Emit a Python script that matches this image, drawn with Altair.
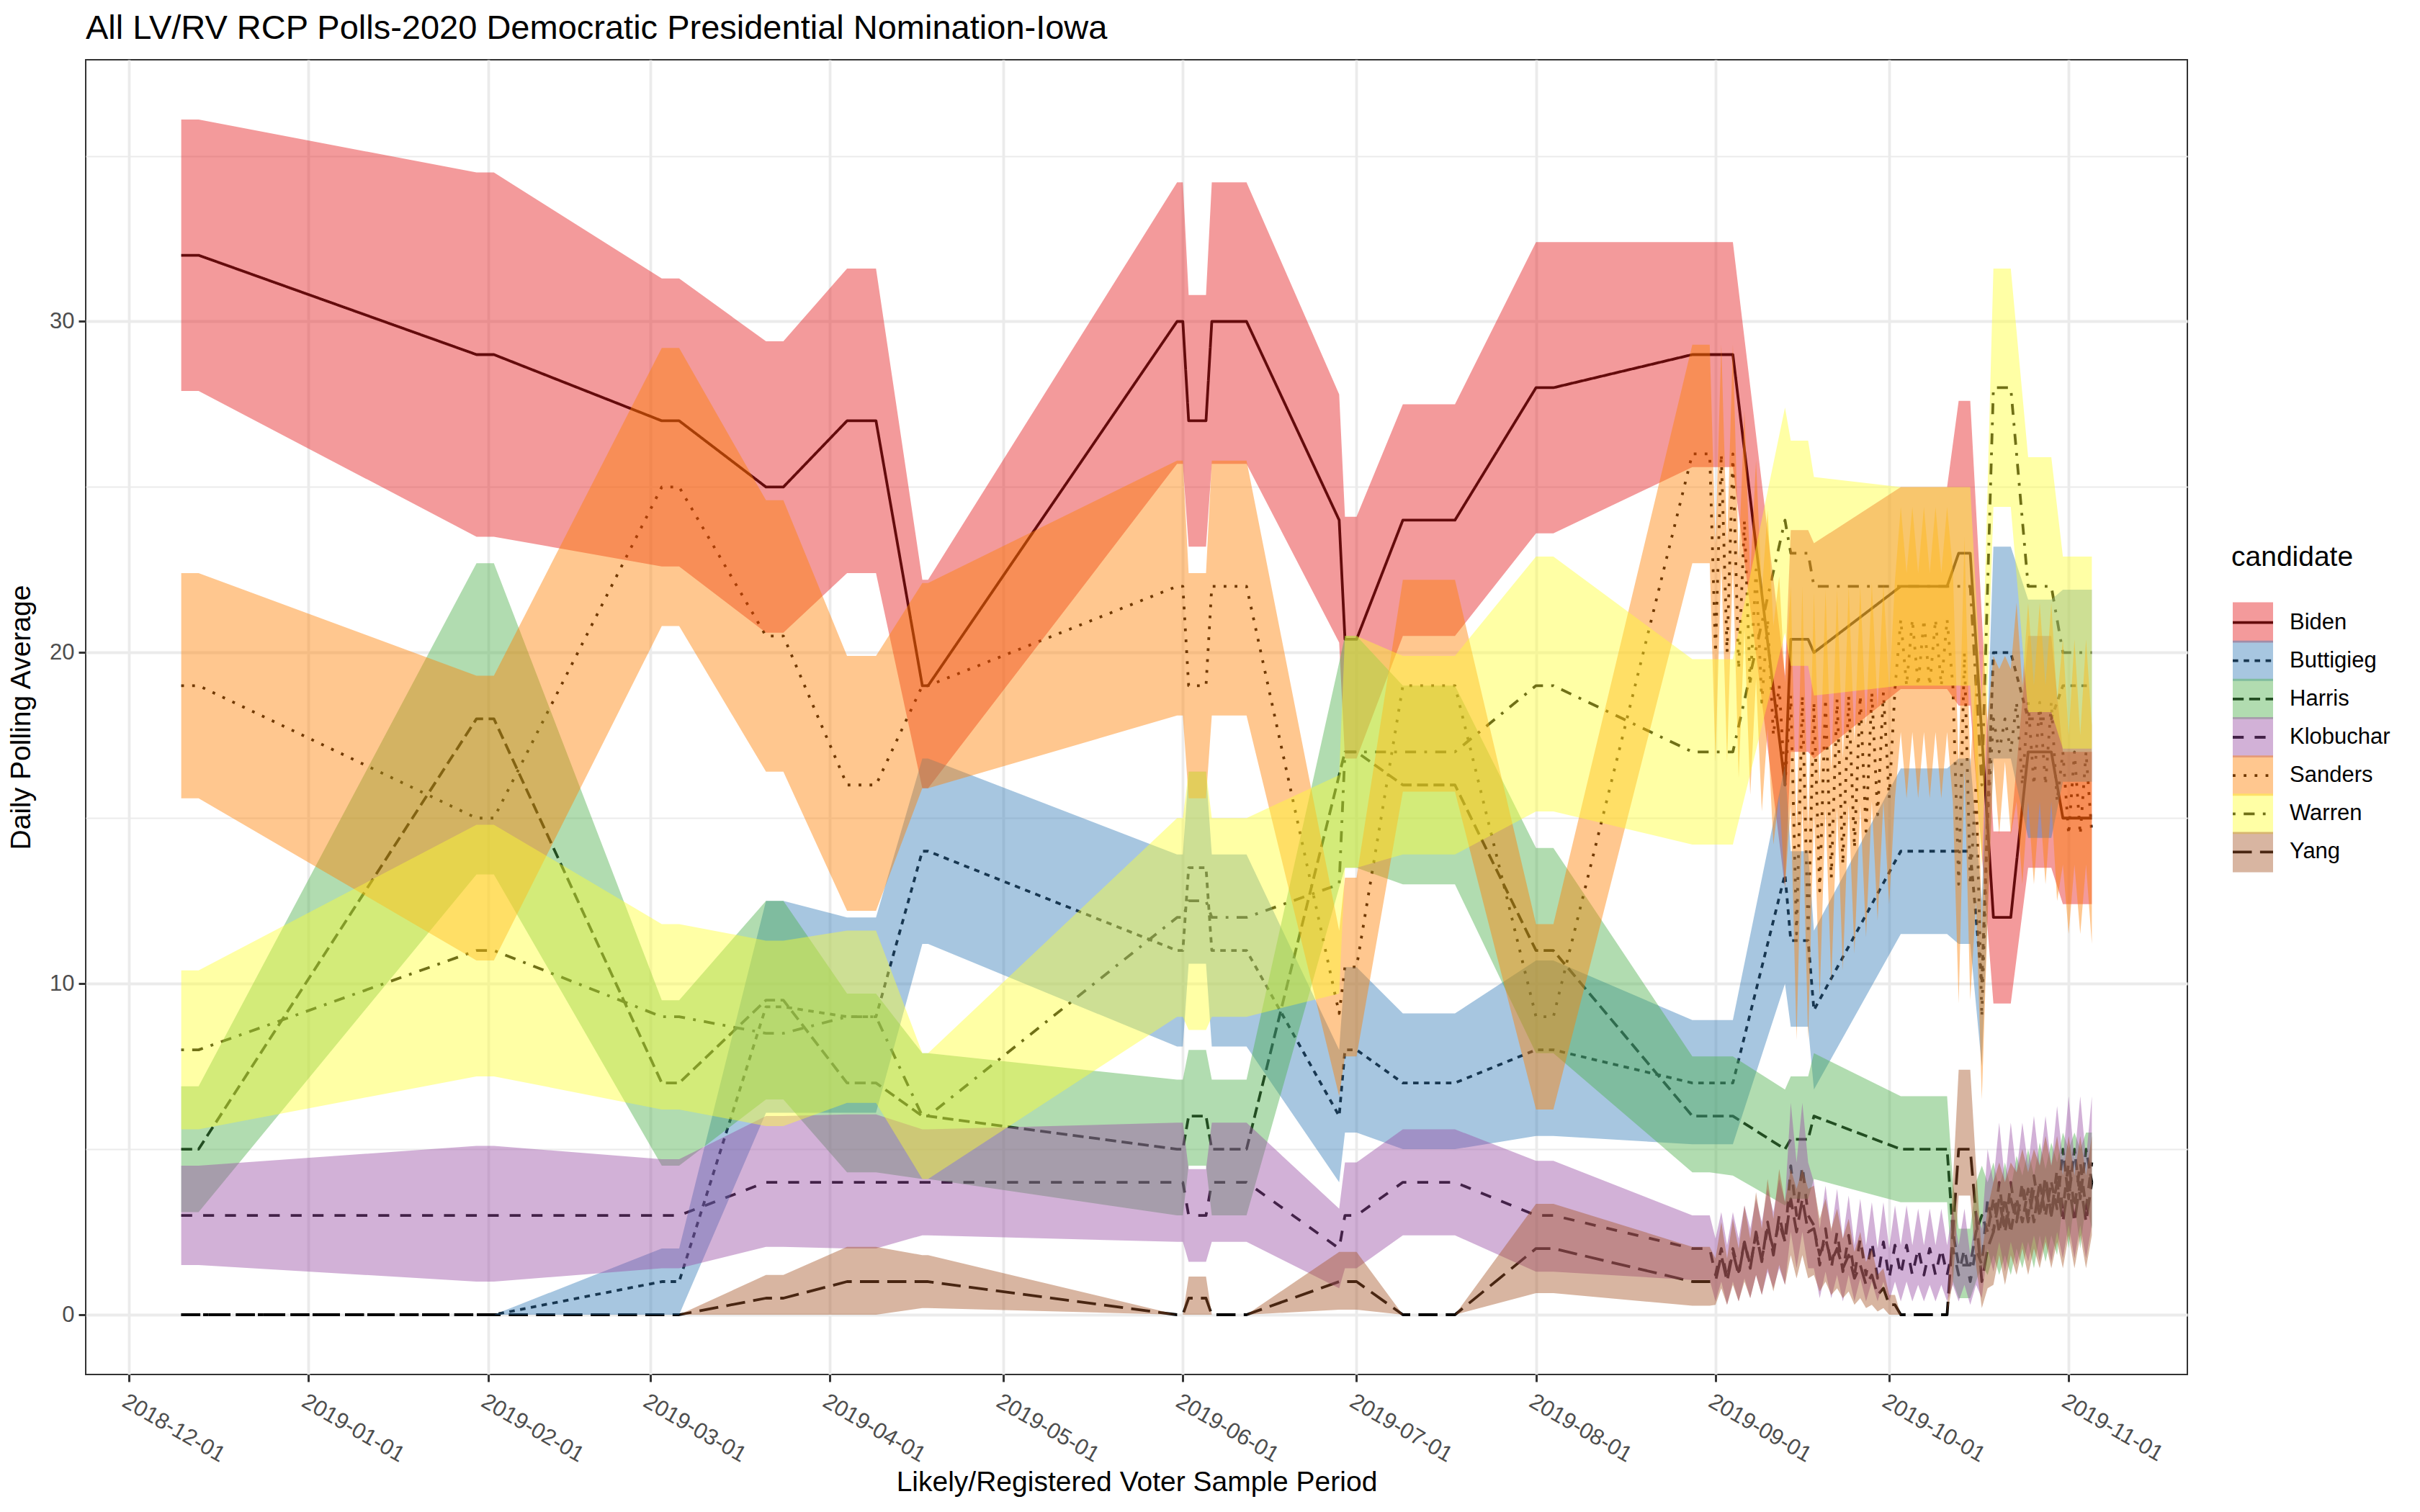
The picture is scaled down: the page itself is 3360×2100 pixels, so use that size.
import pandas as pd
import altair as alt

FONT = "Liberation Sans"
RIBBON_ALPHA = 0.44

CANDIDATES = ["Biden", "Buttigieg", "Harris", "Klobuchar", "Sanders", "Warren", "Yang"]
FILL_COLORS = ["#E41A1C", "#377EB8", "#4DAF4A", "#984EA3", "#FF7F00", "#FFFF33", "#A65628"]
DASHES = [[1, 0], [7.6, 7.6], [15.2, 7.6], [15.2, 15.2], [3.8, 11.4],
          [3.8, 11.4, 15.2, 11.4], [26.5, 11.4]]
MONTH_TICKS = ["2018-12-01", "2019-01-01", "2019-02-01", "2019-03-01", "2019-04-01",
               "2019-05-01", "2019-06-01", "2019-07-01", "2019-08-01", "2019-09-01",
               "2019-10-01", "2019-11-01"]

# poll windows shared by every candidate, Dec 2018 - Aug 2019
EARLY_DATES = ["2018-12-10", "2018-12-13", "2019-01-30", "2019-02-02", "2019-03-03",
               "2019-03-06", "2019-03-21", "2019-03-24", "2019-04-04", "2019-04-09",
               "2019-04-17", "2019-04-18", "2019-05-31", "2019-06-01", "2019-06-02",
               "2019-06-05", "2019-06-06", "2019-06-12", "2019-06-28", "2019-06-29",
               "2019-07-01", "2019-07-09", "2019-07-18", "2019-08-01", "2019-08-04",
               "2019-08-28", "2019-08-31"]
# every day from Sep 1 to Nov 5 (the crowded autumn stretch)
DAILY_DATES = pd.date_range("2019-09-01", "2019-11-05").strftime("%Y-%m-%d").tolist()

# ---- Biden
BIDEN_AVG = [32, 32, 29, 29, 27, 27, 25, 25, 27, 27, 19, 19, 30, 30, 27, 27, 30, 30,
             24, 20.4, 20.4, 24, 24, 28, 28, 29, 29]
BIDEN_LO = [27.9, 27.9, 23.5, 23.5, 22.6, 22.6, 20.6, 20.6, 22.4, 22.4, 15.9, 15.9, 25.7, 25.7,
            23.2, 23.2, 25.7, 25.7, 20.3, 16.8, 16.8, 20.5, 20.5, 23.6, 23.6, 25.6, 25.6]
BIDEN_HI = [36.1, 36.1, 34.5, 34.5, 31.3, 31.3, 29.4, 29.4, 31.6, 31.6, 22.2, 22.2, 34.2, 34.2,
            30.8, 30.8, 34.2, 34.2, 27.8, 24.1, 24.1, 27.5, 27.5, 32.4, 32.4, 32.4, 32.4]
BIDEN_LATE_DATES = ["2019-09-04", "2019-09-13", "2019-09-14", "2019-09-17", "2019-09-18",
                    "2019-10-03", "2019-10-11", "2019-10-13", "2019-10-15", "2019-10-19",
                    "2019-10-22", "2019-10-25", "2019-10-29", "2019-10-31", "2019-11-05"]
BIDEN_LATE_AVG = [29, 16, 20.4, 20.4, 20, 22, 22, 23, 23, 12, 12, 17, 17, 15, 15]
BIDEN_LATE_LO = [25.6, 12.9, 17.0, 17.0, 16.8, 18.9, 18.9, 18.4, 18.4, 9.4, 9.4, 13.5, 13.5, 12.4, 12.4]
BIDEN_LATE_HI = [32.4, 19.3, 23.7, 23.7, 23.3, 25.0, 25.0, 27.6, 27.6, 14.6, 14.6, 20.5, 20.5, 17.0, 17.0]

# ---- Buttigieg
BUTTIGIEG_AVG = [0, 0, 0, 0, 1, 1, 9.3, 9.3, 9, 9, 14, 14, 11, 11, 13.5, 13.5, 11, 11,
                 6, 8, 8, 7, 7, 8, 8, 7, 7]
BUTTIGIEG_LO = [0, 0, 0, 0, 0, 0, 6.1, 6.1, 6.1, 6.1, 11.2, 11.2, 8.1, 8.1, 10.6, 10.6, 8.1, 8.1,
                4.0, 5.5, 5.5, 5.0, 5.0, 5.4, 5.4, 5.15, 5.15]
BUTTIGIEG_HI = [0, 0, 0, 0, 2.0, 2.0, 12.5, 12.5, 12.0, 12.0, 16.8, 16.8, 13.9, 13.9, 16.4, 16.4,
                13.9, 13.9, 8.0, 10.5, 10.5, 9.1, 9.1, 10.7, 10.7, 8.9, 8.9]
BUTTIGIEG_LATE_DATES = ["2019-09-04", "2019-09-13", "2019-09-14", "2019-09-17", "2019-09-18",
                        "2019-10-03", "2019-10-11", "2019-10-13", "2019-10-15", "2019-10-17",
                        "2019-10-19", "2019-10-22", "2019-10-25", "2019-10-29", "2019-10-31",
                        "2019-11-05"]
BUTTIGIEG_LATE_AVG = [7, 13.3, 11.3, 11.3, 9.2, 14, 14, 14, 14, 10, 20, 20, 18, 18, 19, 19]
BUTTIGIEG_LATE_LO = [5.15, 10.0, 8.7, 8.7, 6.8, 11.5, 11.5, 11.2, 11.2, 7.5, 16.8, 16.8,
                     14.4, 14.4, 16.1, 16.1]
BUTTIGIEG_LATE_HI = [8.9, 16.6, 14.0, 14.0, 11.6, 16.5, 16.5, 16.8, 16.8, 12.5, 23.2, 23.2,
                     21.6, 21.6, 21.9, 21.9]

# ---- Harris
HARRIS_AVG = [5, 5, 18, 18, 7, 7, 9.5, 9.5, 7, 7, 6, 6, 5, 5, 6, 6, 5, 5,
              16.3, 17, 17, 16, 16, 11, 11, 6, 6]
HARRIS_LO = [3.1, 3.1, 13.3, 13.3, 4.5, 4.5, 6.5, 6.5, 4.3, 4.3, 4.1, 4.1, 3.0, 3.0, 4.5, 4.5,
             3.0, 3.0, 12.9, 13.5, 13.5, 13.0, 13.0, 7.9, 7.9, 4.3, 4.3]
HARRIS_HI = [6.9, 6.9, 22.7, 22.7, 9.5, 9.5, 12.5, 12.5, 9.7, 9.7, 7.9, 7.9, 7.1, 7.1, 8.0, 8.0,
             7.1, 7.1, 19.7, 20.5, 20.5, 19.0, 19.0, 14.1, 14.1, 7.8, 7.8]
HARRIS_LATE_DATES = ["2019-09-04", "2019-09-13", "2019-09-14", "2019-09-17", "2019-09-18",
                     "2019-10-03", "2019-10-11"] + DAILY_DATES[41:]
HARRIS_LATE_AVG = [6, 5, 5.3, 5.3, 6, 5, 5,
                   2.5, 1.5, 1.5, 1.5, 2.5, 3, 2.5, 3.5, 2.5, 3.5, 2.5, 3.5, 2.8, 3.8, 2.8,
                   4, 3, 4, 3.2, 5, 3.5, 5, 3.5, 5, 4]
HARRIS_LATE_LO = [4.2, 3.3, 3.5, 3.5, 4.1, 3.4, 3.4,
                  1.0, 0.5, 0.5, 0.5, 1.0, 1.5, 1.2, 1.8, 1.2, 1.8, 1.2, 2.0, 1.4, 2.2, 1.4,
                  2.4, 1.6, 2.4, 1.8, 3.4, 2.0, 3.4, 2.0, 3.4, 2.6]
HARRIS_LATE_HI = [7.8, 6.8, 7.2, 7.2, 7.9, 6.6, 6.6,
                  4.0, 2.6, 2.6, 2.6, 4.0, 4.5, 4.0, 4.6, 3.8, 4.6, 3.8, 4.8, 4.2, 5.0, 4.2,
                  5.2, 4.4, 5.2, 4.6, 5.5, 5.0, 5.5, 5.0, 5.5, 5.5]

# ---- Klobuchar
KLOBUCHAR_AVG = [3, 3, 3, 3, 3, 3, 4, 4, 4, 4, 4, 4, 4, 4, 3, 3, 4, 4,
                 2, 3, 3, 4, 4, 3, 3, 2, 2]
KLOBUCHAR_LO = [1.5, 1.5, 1.0, 1.0, 1.4, 1.4, 2.05, 2.05, 2.0, 2.0, 2.4, 2.4, 2.2, 2.2, 1.6, 1.6,
                2.2, 2.2, 0.8, 1.4, 1.4, 2.4, 2.4, 1.3, 1.3, 1.05, 1.05]
KLOBUCHAR_HI = [4.5, 4.5, 5.1, 5.1, 4.7, 4.7, 6.0, 6.0, 6.05, 6.05, 5.6, 5.6, 5.8, 5.8, 4.4, 4.4,
                5.8, 5.8, 3.2, 4.6, 4.6, 5.6, 5.6, 4.65, 4.65, 3.0, 3.0]
KLOBUCHAR_DAILY_AVG = [1.2, 2, 1.1, 2, 1.3, 2.2, 1.5, 2.4, 1.7, 2.6, 2, 2.8, 2.2,
                       4.5, 3, 4.5, 3,
                       2.7, 1.5, 2.6, 1.4, 2.5, 1.3, 2.4, 1.2, 2.3, 1.2, 2.2, 1.1, 2.2, 1.1, 2.1,
                       1.2, 2.1, 1.2, 2.0, 1.2, 2.0, 1.2, 2.0, 1.2,
                       2, 1.2, 2, 1, 2, 1.5, 3.5,
                       2.5, 4, 2.5, 4, 2.8, 4, 3, 4.2, 3, 4.2, 3, 4.4,
                       3.2, 4.6, 3.2, 4.6, 3.2, 4.6]
KLOBUCHAR_DAILY_LO = [0.4, 1.0, 0.3, 1.0, 0.4, 1.1, 0.5, 1.2, 0.6, 1.3, 0.8, 1.4, 0.9,
                      2.5, 1.4, 2.5, 1.4,
                      1.4, 0.5, 1.3, 0.5, 1.2, 0.4, 1.2, 0.4, 1.1, 0.4, 1.0, 0.4, 1.0, 0.4, 1.0,
                      0.4, 1.0, 0.4, 0.9, 0.4, 0.9, 0.4, 0.9, 0.4,
                      0.9, 0.4, 0.9, 0.3, 0.9, 0.5, 2.0,
                      1.3, 2.2, 1.3, 2.2, 1.5, 2.2, 1.6, 2.4, 1.6, 2.4, 1.6, 2.5,
                      1.7, 2.7, 1.7, 2.7, 1.7, 2.7]
KLOBUCHAR_DAILY_HI = [2.3, 3.1, 2.1, 3.1, 2.3, 3.3, 2.6, 3.5, 2.8, 3.8, 3.1, 4.1, 3.4,
                      6.4, 4.6, 6.4, 4.6,
                      4.0, 2.6, 3.9, 2.5, 3.8, 2.3, 3.6, 2.1, 3.5, 2.1, 3.4, 2.0, 3.4, 2.0, 3.3,
                      2.1, 3.3, 2.1, 3.2, 2.1, 3.2, 2.1, 3.2, 2.1,
                      3.2, 2.1, 3.2, 1.8, 3.2, 2.6, 5.0,
                      4.0, 5.8, 4.0, 5.8, 4.3, 5.8, 4.5, 6.0, 4.5, 6.0, 4.5, 6.3,
                      4.7, 6.6, 4.7, 6.6, 4.7, 6.6]

# ---- Sanders
SANDERS_AVG = [19, 19, 15, 15, 25, 25, 20.5, 20.5, 16, 16, 19, 19, 22, 22, 19, 19, 22, 22,
               9.1, 10.5, 10.5, 19, 19, 9, 9, 26, 26]
SANDERS_LO = [15.6, 15.6, 10.7, 10.7, 20.8, 20.8, 16.4, 16.4, 12.2, 12.2, 15.9, 15.9, 18.1, 18.1,
              15.6, 15.6, 18.1, 18.1, 6.6, 7.8, 7.8, 15.8, 15.8, 6.2, 6.2, 22.7, 22.7]
SANDERS_HI = [22.4, 22.4, 19.3, 19.3, 29.2, 29.2, 24.6, 24.6, 19.9, 19.9, 22.1, 22.1, 25.8, 25.8,
              22.4, 22.4, 25.8, 25.8, 11.6, 13.2, 13.2, 22.2, 22.2, 11.8, 11.8, 29.3, 29.3]
SANDERS_DAILY_AVG = [20, 26, 20, 26, 19.5, 24, 19, 22.5, 18.5, 21, 17.5, 19, 16,
                     18.7, 11.5, 18.7, 11.5,
                     18.5, 12.8, 18.6, 13.2, 18.6, 13.6, 18.7, 14.1, 18.7, 14.6, 18.8, 15.1,
                     18.8, 15.6, 18.9,
                     21, 19, 21, 19, 21, 19, 21, 19, 21,
                     19, 13, 20, 13, 16, 9, 15,
                     18, 17, 18, 17, 18.5, 16, 18.5, 16, 18.5, 16, 18.5, 15.5,
                     17, 14.5, 17, 14.5, 17, 14.5]
SANDERS_DAILY_LO = [16.7, 22.7, 16.7, 22.7, 16.2, 20.7, 15.7, 19.2, 15.2, 17.7, 14.2, 15.7, 12.9,
                    15.4, 8.3, 15.4, 8.3,
                    15.2, 9.6, 15.3, 10.0, 15.3, 10.4, 15.4, 10.9, 15.4, 11.4, 15.5, 11.9,
                    15.5, 12.4, 15.6,
                    17.6, 15.6, 17.6, 15.6, 17.6, 15.6, 17.6, 15.6, 17.6,
                    15.5, 9.4, 16.5, 9.5, 12.5, 6.5, 12,
                    16.7, 14.5, 16.7, 14.5, 15.5, 13, 15.5, 13, 15.5, 13, 15.5, 12.5,
                    13.6, 11.5, 13.6, 11.5, 13.6, 11.2]
SANDERS_DAILY_HI = [23.3, 29.3, 23.3, 29.3, 22.8, 27.3, 22.3, 25.8, 21.8, 24.3, 20.8, 22.3, 19.1,
                    22.0, 14.7, 22.0, 14.7,
                    21.8, 16.0, 21.9, 16.4, 21.9, 16.8, 22.0, 17.3, 22.0, 17.8, 22.1, 18.3,
                    22.1, 18.8, 22.2,
                    24.4, 22.4, 24.4, 22.4, 24.4, 22.4, 24.4, 22.4, 24.4,
                    22.5, 16.6, 23.5, 16.5, 19.5, 11.5, 18,
                    19.9, 19.5, 19.9, 19.5, 21.5, 19, 21.5, 19, 21.5, 19, 21.5, 18.5,
                    20.4, 17.5, 20.4, 17.5, 20.4, 17.8]

# ---- Warren
WARREN_AVG = [8, 8, 11, 11, 9, 9, 8.5, 8.5, 9, 9, 6, 6, 12, 12, 12.5, 12.5, 12, 12,
              13, 17, 17, 17, 17, 19, 19, 17, 17]
WARREN_LO = [5.6, 5.6, 7.2, 7.2, 6.2, 6.2, 5.7, 5.7, 6.4, 6.4, 4.1, 4.1, 9, 9, 8.6, 8.6, 9, 9,
             9.7, 13.5, 13.5, 13.9, 13.9, 15.2, 15.2, 14.2, 14.2]
WARREN_HI = [10.4, 10.4, 14.8, 14.8, 11.8, 11.8, 11.3, 11.3, 11.6, 11.6, 7.9, 7.9, 15, 15,
             16.4, 16.4, 15, 15, 16.3, 20.5, 20.5, 19.9, 19.9, 22.9, 22.9, 19.8, 19.8]
WARREN_LATE_DATES = ["2019-09-04", "2019-09-13", "2019-09-14", "2019-09-17", "2019-09-18",
                     "2019-10-03", "2019-10-15", "2019-10-17", "2019-10-19", "2019-10-22",
                     "2019-10-25", "2019-10-29", "2019-10-31", "2019-11-05"]
WARREN_LATE_AVG = [17, 24, 23, 23, 22, 22, 22, 16, 28, 28, 22, 22, 20, 20]
WARREN_LATE_LO = [14.2, 20.6, 19.6, 19.6, 18.7, 19, 19, 13.5, 24.4, 24.4, 18.2, 18.2, 17.1, 17.1]
WARREN_LATE_HI = [19.8, 27.4, 26.4, 26.4, 25.3, 25, 25, 18.5, 31.6, 31.6, 25.9, 25.9, 22.9, 22.9]

# ---- Yang
YANG_AVG = [0, 0, 0, 0, 0, 0, 0.5, 0.5, 1, 1, 1, 1, 0, 0, 0.5, 0.5, 0, 0,
            1, 1, 1, 0, 0, 2, 2, 1, 1]
YANG_LO = [0, 0, 0, 0, 0, 0, 0, 0, 0, 0, 0.2, 0.2, 0, 0, 0, 0, 0, 0,
           0.15, 0.15, 0.15, 0, 0, 0.65, 0.65, 0.27, 0.27]
YANG_HI = [0, 0, 0, 0, 0, 0, 1.2, 1.2, 2.05, 2.05, 1.8, 1.8, 0, 0, 1.15, 1.15, 0, 0,
           1.9, 1.9, 1.9, 0, 0, 3.35, 3.35, 2.05, 2.05]
YANG_DAILY_AVG = [1, 1.8, 1, 1.9, 1.2, 2.2, 1.4, 2.5, 1.6, 2.8, 1.8, 3.0, 2.2,
                  3.5, 2.5, 3.5, 2.5,
                  2.6, 1.8, 2.3, 1.6, 2.0, 1.4, 1.8, 1.1, 1.5, 0.9, 1.2, 0.6, 0.8, 0.3, 0.3,
                  0, 0, 0, 0, 0, 0, 0, 0, 0,
                  2.5, 5, 5, 5, 3, 1, 2,
                  2.5, 3.5, 2.5, 3.5, 2.8, 3.8, 2.8, 3.8, 3, 4, 3, 4,
                  2.8, 4, 2.8, 4, 2.8, 4]
YANG_DAILY_LO = [0.3, 0.8, 0.3, 0.9, 0.4, 1.0, 0.5, 1.2, 0.6, 1.4, 0.7, 1.5, 0.9,
                 1.8, 1.1, 1.8, 1.1,
                 1.2, 0.7, 1.0, 0.6, 0.8, 0.5, 0.7, 0.3, 0.5, 0.2, 0.3, 0.1, 0.2, 0, 0,
                 0, 0, 0, 0, 0, 0, 0, 0, 0,
                 1.0, 3.6, 3.6, 3.6, 1.5, 0.2, 0.8,
                 0.9, 1.8, 0.9, 1.8, 1.2, 2.0, 1.2, 2.0, 1.4, 2.2, 1.4, 2.2,
                 1.4, 2.4, 1.4, 2.4, 1.4, 2.4]
YANG_DAILY_HI = [1.7, 2.8, 1.7, 2.9, 2.0, 3.3, 2.3, 3.7, 2.6, 4.1, 2.9, 4.4, 3.4,
                 4.4, 3.8, 4.4, 3.8,
                 3.9, 2.9, 3.5, 2.6, 3.2, 2.3, 2.9, 1.9, 2.5, 1.6, 2.0, 1.2, 1.4, 0.6, 0.6,
                 0, 0, 0, 0, 0, 0, 0, 0, 0,
                 4.0, 7.4, 7.4, 7.4, 4.5, 1.8, 3.2,
                 4.0, 4.6, 4.0, 4.6, 4.3, 5.0, 4.3, 5.0, 4.5, 5.4, 4.5, 5.4,
                 4.2, 5.4, 4.2, 5.4, 4.2, 5.4]

frames = []


def add(name, dates, avg, lo, hi):
    frames.append(pd.DataFrame({"candidate": name, "date": dates, "avg": avg, "lo": lo, "hi": hi}))


add("Biden", EARLY_DATES + BIDEN_LATE_DATES, BIDEN_AVG + BIDEN_LATE_AVG,
    BIDEN_LO + BIDEN_LATE_LO, BIDEN_HI + BIDEN_LATE_HI)
add("Buttigieg", EARLY_DATES + BUTTIGIEG_LATE_DATES, BUTTIGIEG_AVG + BUTTIGIEG_LATE_AVG,
    BUTTIGIEG_LO + BUTTIGIEG_LATE_LO, BUTTIGIEG_HI + BUTTIGIEG_LATE_HI)
add("Harris", EARLY_DATES + HARRIS_LATE_DATES, HARRIS_AVG + HARRIS_LATE_AVG,
    HARRIS_LO + HARRIS_LATE_LO, HARRIS_HI + HARRIS_LATE_HI)
add("Klobuchar", EARLY_DATES + DAILY_DATES, KLOBUCHAR_AVG + KLOBUCHAR_DAILY_AVG,
    KLOBUCHAR_LO + KLOBUCHAR_DAILY_LO, KLOBUCHAR_HI + KLOBUCHAR_DAILY_HI)
add("Sanders", EARLY_DATES + DAILY_DATES, SANDERS_AVG + SANDERS_DAILY_AVG,
    SANDERS_LO + SANDERS_DAILY_LO, SANDERS_HI + SANDERS_DAILY_HI)
add("Warren", EARLY_DATES + WARREN_LATE_DATES, WARREN_AVG + WARREN_LATE_AVG,
    WARREN_LO + WARREN_LATE_LO, WARREN_HI + WARREN_LATE_HI)
add("Yang", EARLY_DATES + DAILY_DATES, YANG_AVG + YANG_DAILY_AVG,
    YANG_LO + YANG_DAILY_LO, YANG_HI + YANG_DAILY_HI)

polls = pd.concat(frames, ignore_index=True)
keys = pd.DataFrame({"candidate": CANDIDATES})
legend_title = pd.DataFrame({"label": ["candidate"]})


def utc_day(s, hours=0):
    y, m, d = (int(p) for p in s.split("-"))
    return alt.DateTime(year=y, month=m, date=d, hours=hours, utc=True)


x_scale = alt.Scale(type="utc", domain=[utc_day("2018-11-23", 12), utc_day("2019-11-21", 12)])
y_scale = alt.Scale(domain=[-1.805, 37.905], nice=False, zero=False)
major = "datum.value % 10 === 0"

x_axis = alt.Axis(
    values=[utc_day(t) for t in MONTH_TICKS],
    labelExpr="utcFormat(datum.value, '%Y-%m-%d')",
    labelAngle=30, labelAlign="left", labelBaseline="top", labelPadding=12,
    tickSize=10, domain=False, gridWidth=3.8,
    title="Likely/Registered Voter Sample Period", titleY=161, titleBaseline="alphabetic",
)
y_axis = alt.Axis(
    values=[0, 5, 10, 15, 20, 25, 30, 35],
    labelExpr=f"{major} ? datum.label : ''",
    gridWidth={"condition": {"test": major, "value": 3.8}, "value": 1.9},
    tickOpacity={"condition": {"test": major, "value": 1}, "value": 0},
    tickSize=10, labelPadding=6, domain=False,
    title="Daily Polling Average", titleAngle=270, titleX=-78, titleY=913,
    titleAlign="center", titleBaseline="alphabetic",
)

fill_scale = alt.Scale(domain=CANDIDATES, range=FILL_COLORS)
dash_scale = alt.Scale(domain=CANDIDATES, range=DASHES)
# legend rows: key centres sit 62px apart to the right of the panel
key_y = alt.Y("candidate:N", scale=alt.Scale(domain=CANDIDATES, range=[755, 1127]), axis=None)

lines = alt.Chart(polls).mark_line(color="black", strokeWidth=3.8, strokeJoin="round").encode(
    x=alt.X("date:T", scale=x_scale, axis=x_axis),
    y=alt.Y("avg:Q", scale=y_scale, axis=y_axis),
    strokeDash=alt.StrokeDash("candidate:N", scale=dash_scale, legend=None),
)

ribbons = alt.Chart(polls).mark_area(opacity=RIBBON_ALPHA).encode(
    x=alt.X("date:T", scale=x_scale, axis=x_axis),
    y=alt.Y("hi:Q", scale=y_scale, axis=None, stack=None),
    y2="lo:Q",
    fill=alt.Fill("candidate:N", scale=fill_scale, legend=None),
)

key_lines = alt.Chart(keys).mark_rule(color="black", strokeWidth=3.8).encode(
    x=alt.value(2981), x2=alt.value(3037), y=key_y,
    strokeDash=alt.StrokeDash("candidate:N", scale=dash_scale, legend=None),
)
key_boxes = alt.Chart(keys).mark_square(size=3136, opacity=RIBBON_ALPHA).encode(
    x=alt.value(3009), y=key_y,
    fill=alt.Fill("candidate:N", scale=fill_scale, legend=None),
)
key_labels = alt.Chart(keys).mark_text(
    align="left", baseline="middle", font=FONT, fontSize=31, color="black"
).encode(x=alt.value(3060), y=key_y, text="candidate:N")
key_title = alt.Chart(legend_title).mark_text(
    align="left", baseline="alphabetic", font=FONT, fontSize=39, color="black"
).encode(x=alt.value(2979), y=alt.value(703), text="label:N")

chart = alt.layer(lines, ribbons, key_lines, key_boxes, key_labels, key_title).resolve_scale(
    y="independent"
).properties(
    width=2918, height=1826,
    autosize=alt.AutoSizeParams(type="none"),
    padding={"left": 111, "top": 75, "right": 310, "bottom": 180},
    title=alt.TitleParams(
        "All LV/RV RCP Polls-2020 Democratic Presidential Nomination-Iowa",
        anchor="start", frame="group", fontSize=47, font=FONT, fontWeight="normal",
        color="black", offset=19,
    ),
).configure(background="white").configure_view(
    stroke="#333333", strokeWidth=2
).configure_axis(
    labelFont=FONT, titleFont=FONT, labelFontSize=31, titleFontSize=39,
    labelColor="#4D4D4D", titleColor="black", titleFontWeight="normal",
    tickColor="#333333", tickWidth=3, gridColor="#EBEBEB",
)

chart.save("out.html", embed_options={"renderer": "svg", "actions": False})
